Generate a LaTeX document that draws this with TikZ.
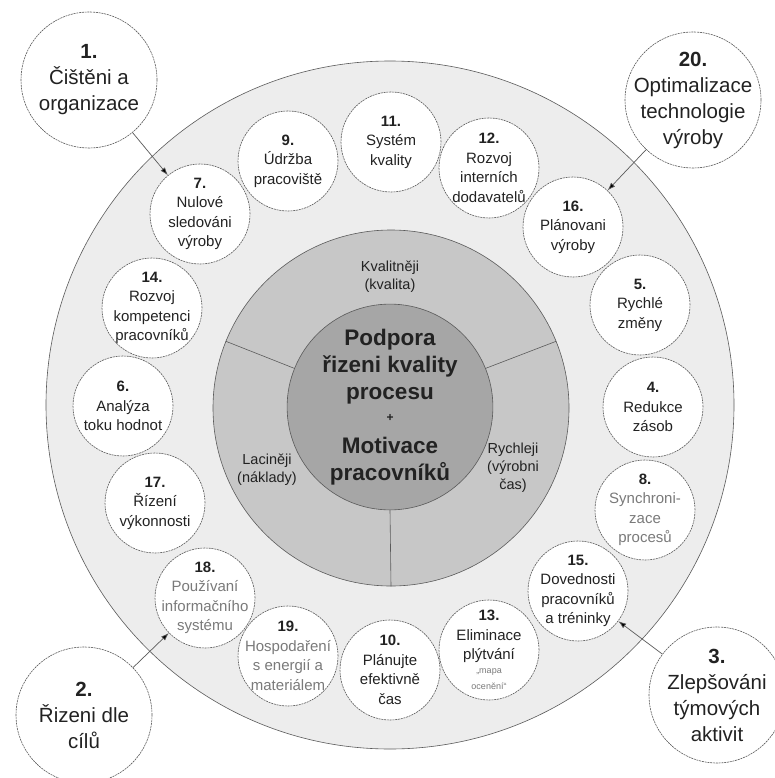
\documentclass[tikz,border=0pt]{standalone}
\usepackage{fontspec}
\setsansfont{Liberation Sans}
\usepackage{tikz}
\usetikzlibrary{arrows.meta}
\definecolor{fieldcol}{HTML}{EDEDED}
\definecolor{ringcol}{HTML}{C7C7C7}
\definecolor{corecol}{HTML}{A6A6A6}
\definecolor{edgecol}{HTML}{5A5A5A}
\definecolor{inkcol}{HTML}{222222}
\definecolor{softcol}{HTML}{7A7A7A}

\begin{document}
\begin{tikzpicture}[x=1pt,y=-1pt,font=\sffamily,text=inkcol,
   tool/.style={circle,draw=edgecol,fill=white,line width=0.6pt,
              dash pattern=on 2pt off 0.8pt,minimum size=100pt,inner sep=-10pt,
              align=center,font=\sffamily\fontsize{15}{19.5}\selectfont},
   goal/.style={tool,minimum size=136pt,inner sep=-18pt,
              font=\sffamily\fontsize{20.5}{26}\selectfont},
   soft/.style={text=softcol},
   zone/.style={circle,draw=edgecol,line width=0.6pt,inner sep=0pt},
   lbl/.style={align=center,font=\sffamily\fontsize{14.5}{18}\selectfont},
   link/.style={-{Latex[length=8pt,width=5.5pt,fill=black]},draw=edgecol,line width=0.7pt},
]
\useasboundingbox[fill=white] (0,0) rectangle (775,778);

% three concentric zones
\node[zone,fill=fieldcol,minimum size=688pt] (field) at (390,405) {};
\node[zone,fill=ringcol,minimum size=356pt] (ring) at (391,408) {};
\node[zone,fill=corecol,minimum size=200pt,align=center,
      font=\sffamily\bfseries\fontsize{22.5}{27}\selectfont] (core) at (390,407)
     {Podpora\\ řizeni kvality\\ procesu\\[-5pt] {\fontsize{12}{12}\selectfont +}\\[5pt]
      Motivace\\ pracovníků};
\foreach \a in {22,158,270}
  \draw[edgecol,line width=0.6pt] (core.\a) -- (ring.\a);

\node[lbl] (qual)  at (390,277) {Kvalitněji\\ (kvalita)};
\node[lbl] (fast)  at (513,468) {Rychleji\\ (výrobni\\ čas)};
\node[lbl] (cheap) at (267,470) {Laciněji\\ (náklady)};

\node[tool] (n7)  at (200,214) {\textbf{7.}\\ Nulové\\ sledováni\\ výroby};
\node[tool] (n9)  at (288,161) {\textbf{9.}\\ Údržba\\ pracoviště};
\node[tool] (n11) at (391,142) {\textbf{11.}\\ Systém\\ kvality};
\node[tool] (n12) at (489,168) {\textbf{12.}\\ Rozvoj\\ interních\\ dodavatelů};
\node[tool] (n16) at (573,227) {\textbf{16.}\\ Plánovani\\ výroby};
\node[tool] (n5)  at (640,305) {\textbf{5.}\\ Rychlé\\ změny};
\node[tool] (n4)  at (653,407) {\textbf{4.}\\ Redukce\\ zásob};
\node[tool,soft] (n8) at (645,510)
     {\textbf{\color{inkcol}8.}\\ Synchroni-\\ zace\\ procesů};
\node[tool] (n15) at (578,591) {\textbf{15.}\\ Dovednosti\\ pracovníků\\ a tréninky};
\node[tool] (n13) at (489,650)
     {\textbf{13.}\\ Eliminace\\ plýtvání\\[-5.5pt]
      {\color{softcol}\fontsize{9}{12}\selectfont „mapa}\\[-3.5pt]
      {\color{softcol}\fontsize{9}{12}\selectfont ocenění“}};
\node[tool] (n10) at (390,670) {\textbf{10.}\\ Plánujte\\ efektivně\\ čas};
\node[tool,soft] (n19) at (288,656)
     {\textbf{\color{inkcol}19.}\\ Hospodaření\\ s energií a\\ materiálem};
\node[tool,soft] (n18) at (205,598)
     {\textbf{\color{inkcol}18.}\\ Používaní\\ informačního\\ systému};
\node[tool] (n17) at (155,503) {\textbf{17.}\\ Řízení\\ výkonnosti};
\node[tool] (n6)  at (123,406) {\textbf{6.}\\ Analýza\\ toku hodnot};
\node[tool] (n14) at (152,308) {\textbf{14.}\\ Rozvoj\\ kompetenci\\ pracovníků};

\node[goal] (n1)  at (89,80)   {\textbf{1.}\\ Čištěni a\\ organizace};
\node[goal] (n20) at (693,100) {\textbf{20.}\\ Optimalizace\\ technologie\\ výroby};
\node[goal] (n2)  at (84,715)  {\textbf{2.}\\ Řizeni dle\\ cílů};
\node[goal] (n3)  at (717,695) {\textbf{3.}\\ Zlepšováni\\ týmových\\ aktivit};

\draw[link] (n1) -- (n7);
\draw[link] (n20) -- (n16);
\draw[link] (n2) -- (n18);
\draw[link] (n3) -- (n15);
\end{tikzpicture}
\end{document}
